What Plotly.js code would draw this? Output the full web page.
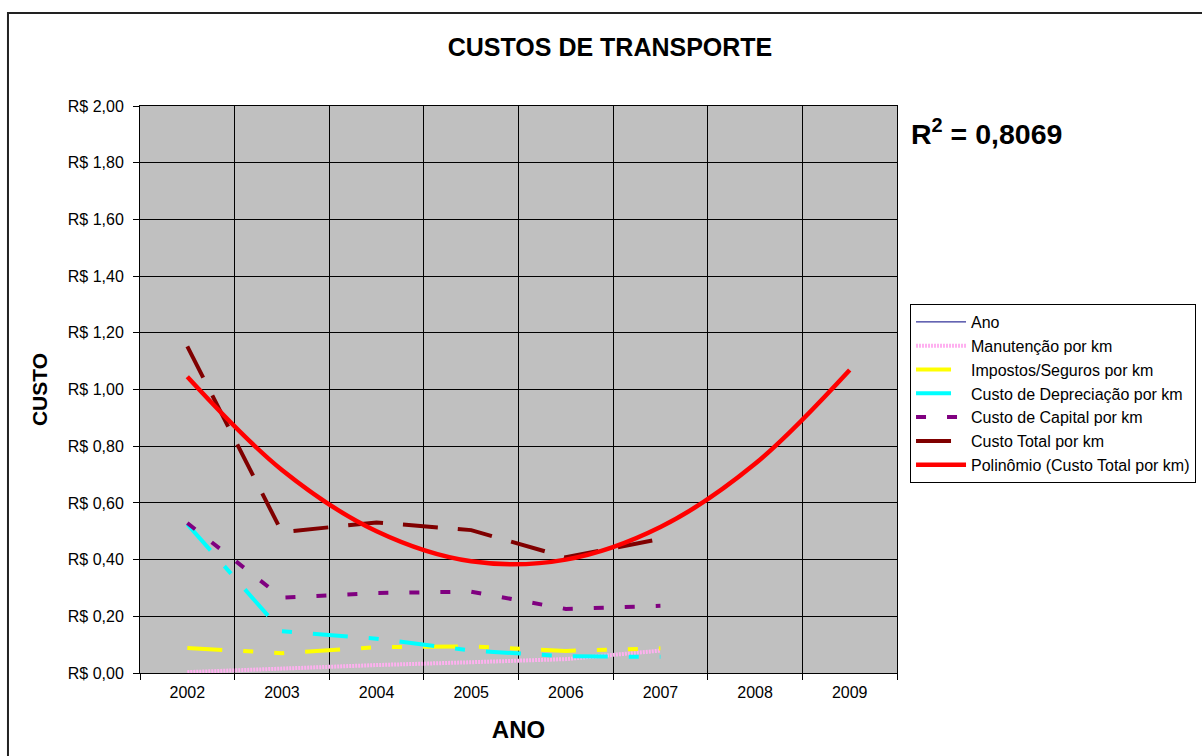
<!DOCTYPE html>
<html>
<head>
<meta charset="utf-8">
<script src="https://cdn.plot.ly/plotly-3.0.1.min.js"></script>
<style>html,body{margin:0;padding:0;background:#fff;}#chart{width:1202px;height:756px;}</style>
</head>
<body>
<div id="chart"></div>
<script>
// ---- data ----
const categories = ['2002','2003','2004','2005','2006','2007','2008','2009'];
const dataYears = ['2002','2003','2004','2005','2006','2007'];
const ano = [2002, 2003, 2004, 2005, 2006, 2007];
const manutencao = [0.003, 0.016, 0.028, 0.038, 0.049, 0.079];
const impostos = [0.088, 0.070, 0.091, 0.094, 0.078, 0.087];
const depreciacao = [0.525, 0.147, 0.121, 0.079, 0.059, 0.057];
const capital = [0.529, 0.266, 0.282, 0.287, 0.226, 0.237];
const custoTotal = [1.152, 0.497, 0.531, 0.504, 0.408, 0.473];
const polinomio = [1.045, 0.716, 0.500, 0.394, 0.400, 0.515, 0.738, 1.069];
const yTickVals = [0, 0.2, 0.4, 0.6, 0.8, 1.0, 1.2, 1.4, 1.6, 1.8, 2.0];
const yTickText = ['R$ 0,00','R$ 0,20','R$ 0,40','R$ 0,60','R$ 0,80','R$ 1,00','R$ 1,20','R$ 1,40','R$ 1,60','R$ 1,80','R$ 2,00'];
const rSquared = 'R<sup>2</sup> = 0,8069';

const FONT = 'Liberation Sans, Arial, sans-serif';

const traces = [
  {name:'Ano', x:dataYears, y:ano, mode:'lines', line:{color:'#000080', width:1}},
  {name:'Manutenção por km', x:dataYears, y:manutencao, mode:'lines', line:{color:'#FFB0F0', width:4, dash:'2px,1px'}},
  {name:'Impostos/Seguros por km', x:dataYears, y:impostos, mode:'lines', line:{color:'#FFFF00', width:4, dash:'35px,21px,10px,21px,10px,21px'}},
  {name:'Custo de Depreciação por km', x:dataYears, y:depreciacao, mode:'lines', line:{color:'#00FFFF', width:4, dash:'35px,21px,10px,21px'}},
  {name:'Custo de Capital por km', x:dataYears, y:capital, mode:'lines', line:{color:'#800080', width:4, dash:'10px,21px'}},
  {name:'Custo Total por km', x:dataYears, y:custoTotal, mode:'lines', line:{color:'#800000', width:4, dash:'35px,20px'}},
  {name:'Polinômio (Custo Total por km)', x:categories, y:polinomio, mode:'lines', line:{color:'#FF0000', width:4.5, shape:'spline', smoothing:1}}
];

const layout = {
  width:1202, height:756,
  margin:{l:140, r:305, t:106, b:83, autoexpand:false},
  paper_bgcolor:'#FFFFFF',
  plot_bgcolor:'#C0C0C0',
  font:{family:FONT, color:'#000'},
  title:{text:'CUSTOS DE TRANSPORTE', font:{size:25, weight:'bold', family:FONT, color:'#000'},
         x:0.5075, xref:'container', xanchor:'center', y:0.938, yref:'container', yanchor:'middle'},
  xaxis:{type:'category', categoryorder:'array', categoryarray:categories, range:[-0.5, 7.5],
         tickson:'boundaries', ticks:'outside', ticklen:6, tickcolor:'#000',
         showgrid:true, gridcolor:'#000', gridwidth:1,
         showline:true, linecolor:'#000', linewidth:1, mirror:true,
         tickfont:{size:16, family:FONT, color:'#000'}, ticklabelstandoff:5,
         title:{text:'ANO', font:{size:24, weight:'bold', family:FONT, color:'#000'}, standoff:20},
         fixedrange:true, zeroline:false, automargin:false},
  yaxis:{range:[0, 2.0], tickvals:yTickVals, ticktext:yTickText,
         ticks:'outside', ticklen:6, tickcolor:'#000',
         showgrid:true, gridcolor:'#000', gridwidth:1,
         showline:true, linecolor:'#000', linewidth:1, mirror:true,
         tickfont:{size:16, family:FONT, color:'#000'}, ticklabelstandoff:6,
         title:{text:'CUSTO', font:{size:21, weight:'bold', family:FONT, color:'#000'}, standoff:14},
         fixedrange:true, zeroline:false, automargin:false},
  showlegend:true,
  legend:{x:1.0172, xanchor:'left', y:0.6508, yanchor:'top',
          bgcolor:'#FFFFFF', bordercolor:'#000', borderwidth:1,
          font:{size:16, family:FONT, color:'#000'}, itemwidth:50, tracegroupgap:0,
          traceorder:'normal'},
  annotations:[
    {text:rSquared, xref:'paper', yref:'paper', x:1.0158, y:0.9542, xanchor:'left', yanchor:'middle',
     showarrow:false, font:{size:28.5, weight:'bold', family:FONT, color:'#000'}}
  ],
  shapes:[
    {type:'rect', xref:'paper', yref:'paper', x0:-0.1744, x1:1.45, y0:-0.2, y1:1.1640,
     line:{color:'#222', width:2}, fillcolor:'rgba(0,0,0,0)', layer:'below'}
  ]
};

Plotly.newPlot('chart', traces, layout, {staticPlot:true, displayModeBar:false});
</script>
</body>
</html>
